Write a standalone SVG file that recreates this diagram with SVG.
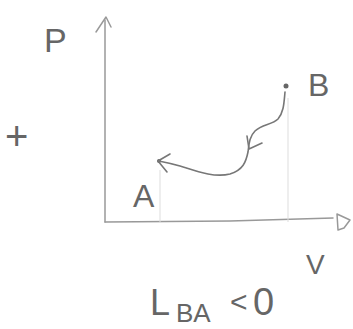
<svg xmlns="http://www.w3.org/2000/svg" width="353" height="329" viewBox="0 0 353 329">
<style>
.t{font-family:"Liberation Sans","DejaVu Sans",sans-serif;fill:#666;font-weight:normal}
.ln{fill:none;stroke:#777;stroke-width:1.6;stroke-linecap:round;stroke-linejoin:round}
.ax{fill:none;stroke:#999;stroke-width:1.5;stroke-linecap:round;stroke-linejoin:round}
.dash{fill:none;stroke:#ddd;stroke-width:1}
</style>
<rect width="353" height="329" fill="#fff"/>
<g id="axes">
<path class="ax" d="M105,20 L105,222"/>
<path class="ax" d="M96,32 L106,17 L111,27"/>
<path class="ax" d="M105,222 L230,221 L333,218"/>
<path class="ax" d="M337,214 L350,220 L344,228 L338,230 Z"/>
</g>
<g id="guides">
<path class="dash" d="M160,170 L160,222"/>
<path class="dash" d="M288,98 L288,222"/>
</g>
<g id="labels">
<text class="t" x="44" y="52" font-size="34">P</text>
<text class="t" x="5" y="150" font-size="40">+</text>
<text class="t" x="133" y="207" font-size="32">A</text>
<text class="t" x="308" y="96" font-size="32">B</text>
<text class="t" x="306" y="274" font-size="28">V</text>
<text class="t" x="150" y="315" font-size="36">L</text>
<text class="t" x="176" y="322" font-size="26">BA</text>
<text class="t" x="230" y="312" font-size="30">&lt;</text>
<text class="t" x="253" y="315" font-size="38">0</text>
</g>
<g id="nodes">
<g id="B"><circle cx="286" cy="86" r="2.5" fill="#666"/></g>
<g id="A"><circle cx="159" cy="161" r="2" fill="#666"/></g>
</g>
<g id="connectors">
<path class="ln" d="M285,92 C284,102 284,112 278,119 C272,125 262,124 255,131 C249,137 249,145 248,152 C246,162 243,170 230,174 C214,178 196,171 180,166 C170,163 164,162 159,161"/>
<path class="ln" d="M247,136 L249,149 L262,143"/>
<path class="ln" d="M170,154 L158,161 L167,172"/>
</g>
</svg>
